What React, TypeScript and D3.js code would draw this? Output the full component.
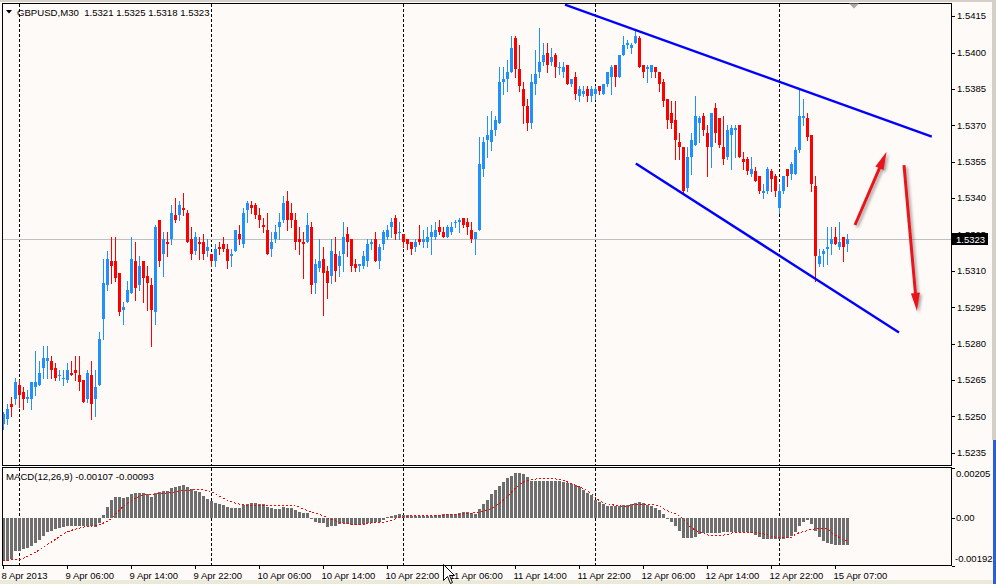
import * as React from "react";
import * as d3 from "d3";

// GBPUSD M30 bars, 8 Apr 22:00 .. 15 Apr 08:30 (one value per bar)
const opens = [
  1.5247, 1.5249, 1.5255, 1.5257, 1.5263, 1.526, 1.5257, 1.5257, 1.5262, 1.5263, 1.527, 1.5273, 1.5273, 1.527, 1.5267, 1.5266,
  1.5265, 1.5268, 1.5269, 1.5267, 1.5265, 1.5257, 1.5267, 1.5257, 1.5263, 1.529, 1.5304, 1.5314, 1.5314, 1.5309, 1.5294, 1.5297,
  1.5301, 1.5314, 1.5304, 1.5314, 1.5308, 1.5304, 1.5293, 1.5331, 1.5317, 1.5322, 1.5323, 1.5333, 1.5333, 1.5336, 1.5334, 1.5323,
  1.5318, 1.5322, 1.5322, 1.5318, 1.5317, 1.5314, 1.532, 1.5321, 1.5319, 1.5316, 1.5318, 1.5325, 1.5321, 1.5335, 1.5337, 1.5337,
  1.5333, 1.5329, 1.5327, 1.5319, 1.5323, 1.5328, 1.5331, 1.5339, 1.5334, 1.5331, 1.5323, 1.5322, 1.5322, 1.5328, 1.5305, 1.5311,
  1.5315, 1.531, 1.5308, 1.5317, 1.5312, 1.5317, 1.5325, 1.5323, 1.5313, 1.5312, 1.5312, 1.5314, 1.5321, 1.5323, 1.5314, 1.5321,
  1.5324, 1.5328, 1.5332, 1.5326, 1.5325, 1.5323, 1.5322, 1.532, 1.5323, 1.5322, 1.5322, 1.5324, 1.5324, 1.5328, 1.5326, 1.5324,
  1.5326, 1.533, 1.533, 1.5332, 1.533, 1.5327, 1.5323, 1.5327, 1.5352, 1.5364, 1.5363, 1.5368, 1.5371, 1.5388, 1.5389, 1.5392,
  1.5406, 1.5393, 1.5385, 1.5378, 1.5371, 1.5387, 1.5392, 1.5396, 1.54, 1.5396, 1.5399, 1.5394, 1.5392, 1.5395, 1.5387, 1.539,
  1.5382, 1.5383, 1.5385, 1.5382, 1.5383, 1.5386, 1.5383, 1.5387, 1.539, 1.5395, 1.539, 1.5399, 1.5403, 1.5402, 1.5404, 1.5406,
  1.5395, 1.5393, 1.5392, 1.5394, 1.5392, 1.5388, 1.5381, 1.5375, 1.5372, 1.5363, 1.5361, 1.5344, 1.5357, 1.5362, 1.5371, 1.5374,
  1.5367, 1.5361, 1.5377, 1.5373, 1.5361, 1.5357, 1.5366, 1.5368, 1.537, 1.5356, 1.5356, 1.535, 1.5351, 1.5349, 1.5342, 1.5343,
  1.5351, 1.5349, 1.5336, 1.5343, 1.5352, 1.535, 1.535, 1.536, 1.5373, 1.5373, 1.5366, 1.5345, 1.5313, 1.5317, 1.5319, 1.5321,
  1.5324, 1.532, 1.5324, 1.5321,
];
const highs = [
  1.5252, 1.5255, 1.5258, 1.5266, 1.5265, 1.5262, 1.5261, 1.5264, 1.5277, 1.5273, 1.5279, 1.5279, 1.5275, 1.5272, 1.5269, 1.5269,
  1.5272, 1.5273, 1.5275, 1.5275, 1.5265, 1.5269, 1.5273, 1.5269, 1.5285, 1.5315, 1.5318, 1.5324, 1.5324, 1.5309, 1.5297, 1.5306,
  1.5324, 1.5322, 1.5316, 1.5314, 1.5312, 1.5307, 1.5329, 1.5331, 1.5326, 1.5326, 1.5337, 1.534, 1.5339, 1.5342, 1.5335, 1.5328,
  1.5326, 1.5324, 1.5325, 1.5323, 1.5317, 1.5321, 1.5322, 1.5324, 1.5321, 1.5319, 1.5327, 1.5329, 1.5336, 1.5339, 1.5339, 1.5338,
  1.5336, 1.5332, 1.5334, 1.5326, 1.5329, 1.5334, 1.5341, 1.5343, 1.5338, 1.5334, 1.5328, 1.5326, 1.5334, 1.533, 1.5315, 1.5323,
  1.532, 1.5312, 1.5323, 1.5324, 1.5318, 1.533, 1.5328, 1.5323, 1.5315, 1.5313, 1.5318, 1.5323, 1.5323, 1.5326, 1.5321, 1.5327,
  1.5329, 1.5332, 1.5333, 1.533, 1.5325, 1.5323, 1.5322, 1.5323, 1.5329, 1.5327, 1.5328, 1.5329, 1.533, 1.5331, 1.5328, 1.5329,
  1.533, 1.5331, 1.5332, 1.5332, 1.5332, 1.533, 1.5326, 1.5365, 1.5365, 1.5374, 1.5376, 1.5374, 1.5394, 1.5394, 1.5397, 1.5407,
  1.5407, 1.5403, 1.5388, 1.5381, 1.5391, 1.5401, 1.541, 1.5404, 1.5404, 1.5402, 1.54, 1.5396, 1.5396, 1.5395, 1.5389, 1.5392,
  1.5386, 1.5386, 1.5386, 1.5386, 1.5386, 1.5386, 1.5387, 1.5392, 1.5395, 1.5395, 1.5399, 1.5407, 1.5405, 1.5404, 1.5409, 1.5407,
  1.5395, 1.5395, 1.5395, 1.5394, 1.5392, 1.5389, 1.5381, 1.538, 1.538, 1.5367, 1.5361, 1.5361, 1.5367, 1.5382, 1.5374, 1.5375,
  1.537, 1.5375, 1.5379, 1.5373, 1.5374, 1.537, 1.537, 1.537, 1.537, 1.5359, 1.5357, 1.5357, 1.5353, 1.5349, 1.5346, 1.5353,
  1.5352, 1.535, 1.5346, 1.5349, 1.5352, 1.5355, 1.5361, 1.5385, 1.5381, 1.5375, 1.5366, 1.5349, 1.5319, 1.5319, 1.5328, 1.5328,
  1.5328, 1.533, 1.5324, 1.5325,
];
const lows = [
  1.5245, 1.5247, 1.525, 1.5255, 1.5254, 1.5253, 1.5256, 1.5253, 1.5259, 1.5263, 1.5266, 1.5266, 1.5266, 1.5265, 1.5265, 1.5263,
  1.5264, 1.5267, 1.5265, 1.5261, 1.5256, 1.5256, 1.5249, 1.525, 1.5263, 1.5282, 1.5302, 1.5305, 1.5306, 1.5292, 1.5288, 1.5297,
  1.5301, 1.5298, 1.5302, 1.5297, 1.5294, 1.5279, 1.5288, 1.5312, 1.5308, 1.5316, 1.5321, 1.533, 1.5331, 1.5333, 1.5322, 1.5315,
  1.5317, 1.5315, 1.5315, 1.5316, 1.5312, 1.5312, 1.5317, 1.5318, 1.5311, 1.5312, 1.5318, 1.5321, 1.532, 1.533, 1.5334, 1.5332,
  1.5328, 1.5326, 1.5317, 1.5316, 1.5322, 1.5323, 1.533, 1.5327, 1.5328, 1.5319, 1.5317, 1.5307, 1.5322, 1.5301, 1.5301, 1.531,
  1.5292, 1.5299, 1.5305, 1.5306, 1.5308, 1.531, 1.5316, 1.531, 1.531, 1.531, 1.5311, 1.5312, 1.5319, 1.5314, 1.5311, 1.5319,
  1.5323, 1.5324, 1.5323, 1.5323, 1.532, 1.5319, 1.5317, 1.5318, 1.5321, 1.532, 1.532, 1.5317, 1.5323, 1.5325, 1.5324, 1.5324,
  1.5325, 1.5328, 1.5326, 1.5328, 1.5325, 1.5322, 1.5317, 1.5327, 1.5349, 1.5357, 1.536, 1.5366, 1.5371, 1.5383, 1.5384, 1.5392,
  1.539, 1.5384, 1.5371, 1.5368, 1.5369, 1.5383, 1.539, 1.5395, 1.5392, 1.5395, 1.539, 1.5391, 1.539, 1.5387, 1.5386, 1.5381,
  1.538, 1.5382, 1.538, 1.538, 1.5381, 1.5383, 1.5383, 1.5386, 1.5383, 1.5386, 1.539, 1.5399, 1.5402, 1.54, 1.5404, 1.5394,
  1.539, 1.5388, 1.539, 1.539, 1.5384, 1.5378, 1.5369, 1.5369, 1.5356, 1.5356, 1.5342, 1.5343, 1.535, 1.5362, 1.5363, 1.5366,
  1.5349, 1.5353, 1.5363, 1.5361, 1.5354, 1.5356, 1.5352, 1.5357, 1.5357, 1.5352, 1.535, 1.5349, 1.5347, 1.5342, 1.534, 1.5342,
  1.5343, 1.5341, 1.5334, 1.5342, 1.5345, 1.5348, 1.535, 1.5359, 1.537, 1.5364, 1.5343, 1.5306, 1.5312, 1.5312, 1.5313, 1.5317,
  1.5321, 1.5319, 1.5314, 1.5318,
];
const closes = [
  1.5251, 1.5253, 1.5254, 1.5264, 1.5259, 1.5257, 1.5258, 1.5264, 1.5264, 1.5268, 1.5274, 1.5274, 1.5269, 1.5266, 1.5267, 1.5266,
  1.5269, 1.5267, 1.5268, 1.5264, 1.5256, 1.5268, 1.5255, 1.5262, 1.5282, 1.5305, 1.5315, 1.5312, 1.5307, 1.5293, 1.5295, 1.5302,
  1.5315, 1.5303, 1.5312, 1.5307, 1.5305, 1.5294, 1.5328, 1.5314, 1.5323, 1.5321, 1.5334, 1.5331, 1.5337, 1.5335, 1.5322, 1.5317,
  1.5324, 1.5321, 1.5317, 1.532, 1.5314, 1.5319, 1.5319, 1.5319, 1.5314, 1.5317, 1.5327, 1.5323, 1.5334, 1.5338, 1.5336, 1.5333,
  1.5331, 1.5328, 1.5317, 1.5322, 1.5326, 1.533, 1.5338, 1.5331, 1.5331, 1.5322, 1.5322, 1.5321, 1.5329, 1.5304, 1.5313, 1.5314,
  1.5309, 1.5305, 1.5318, 1.531, 1.5316, 1.5324, 1.5322, 1.5312, 1.5311, 1.5313, 1.5316, 1.5321, 1.5322, 1.5314, 1.532, 1.5326,
  1.5327, 1.533, 1.5325, 1.5326, 1.5322, 1.5321, 1.5319, 1.5322, 1.5322, 1.5323, 1.5324, 1.5326, 1.5327, 1.5326, 1.5324, 1.5328,
  1.5328, 1.533, 1.5331, 1.5329, 1.5328, 1.5323, 1.5326, 1.5354, 1.5363, 1.5366, 1.5368, 1.5372, 1.5388, 1.5389, 1.5392, 1.5402,
  1.5393, 1.5386, 1.5378, 1.5371, 1.5388, 1.5391, 1.5396, 1.5399, 1.5395, 1.5398, 1.5394, 1.5394, 1.5394, 1.5387, 1.5389, 1.5383,
  1.5385, 1.5384, 1.5382, 1.5385, 1.5385, 1.5384, 1.5387, 1.5392, 1.5394, 1.539, 1.5399, 1.5403, 1.5404, 1.5403, 1.5407, 1.5394,
  1.5392, 1.5394, 1.5395, 1.5392, 1.5387, 1.538, 1.5372, 1.5371, 1.5364, 1.5361, 1.5343, 1.5357, 1.5364, 1.5374, 1.5373, 1.5368,
  1.5361, 1.5375, 1.5367, 1.5362, 1.5356, 1.5368, 1.5369, 1.5369, 1.5357, 1.5355, 1.5351, 1.5352, 1.5347, 1.5343, 1.5343, 1.5352,
  1.5348, 1.5343, 1.5343, 1.5349, 1.5349, 1.5354, 1.536, 1.5374, 1.5374, 1.5365, 1.5346, 1.5316, 1.5316, 1.5318, 1.532, 1.5323,
  1.5321, 1.5322, 1.532, 1.5323,
];

// MACD(12,26,9) main values, one per bar
const macdMain = [
  -0.00173, -0.00173, -0.00167, -0.00135, -0.00133, -0.00126, -0.00122, -0.00112, -0.00102, -0.00087, -0.00071, -0.00057,
  -0.00051, -0.00046, -0.00041, -0.00037, -0.00033, -0.00031, -0.0003, -0.0003, -0.00031, -0.00033, -0.00034, -0.00037,
  -0.0002, 0.00014, 0.00045, 0.00075, 0.00086, 0.00086, 0.00082, 0.00086, 0.00098, 0.001, 0.001, 0.001,
  0.00097, 0.00086, 0.001, 0.00104, 0.00109, 0.00109, 0.0012, 0.00124, 0.0013, 0.00134, 0.00124, 0.00116,
  0.00111, 0.00104, 0.00089, 0.00079, 0.0007, 0.00061, 0.00059, 0.00055, 0.00045, 0.00041, 0.00042, 0.00042,
  0.00052, 0.00059, 0.00061, 0.00063, 0.00059, 0.00056, 0.00045, 0.00041, 0.00037, 0.00037, 0.00045, 0.00042,
  0.00041, 0.00034, 0.00025, 0.00022, 0.00022, -0.00003, -0.00016, -0.0002, -0.0002, -0.00037, -0.00034, -0.00033,
  -0.00023, -0.0002, -0.00023, -0.00026, -0.00026, -0.00026, -0.00023, -0.0002, -0.00019, -0.00016, -0.00015, -0.00007,
  0.00004, 0.0001, 0.00014, 0.00015, 0.00014, 0.00011, 0.0001, 0.00008, 0.00008, 0.00007, 0.00007, 0.0001,
  0.00011, 0.00014, 0.00015, 0.00015, 0.00016, 0.00018, 0.00022, 0.00023, 0.00023, 0.0002, 0.00018, 0.00036,
  0.00059, 0.00075, 0.00096, 0.00113, 0.0013, 0.00148, 0.00161, 0.00172, 0.00182, 0.00182, 0.00179, 0.00168,
  0.00152, 0.00152, 0.00152, 0.00152, 0.00152, 0.00152, 0.00152, 0.0015, 0.00148, 0.00143, 0.00138, 0.00133,
  0.00124, 0.00113, 0.00102, 0.00093, 0.00075, 0.00066, 0.00056, 0.00049, 0.00048, 0.00048, 0.00051, 0.00052,
  0.00055, 0.00059, 0.00063, 0.00064, 0.00061, 0.00055, 0.00048, 0.00041, 0.00031, 0.00018, -0.00004, -0.00016,
  -0.00031, -0.00053, -0.00081, -0.00082, -0.00081, -0.00075, -0.00064, -0.00061, -0.00061, -0.00061, -0.00061, -0.00059,
  -0.00057, -0.00055, -0.00055, -0.00055, -0.00055, -0.00057, -0.00057, -0.00061, -0.00067, -0.00078, -0.00085, -0.00085,
  -0.00085, -0.00085, -0.00085, -0.00085, -0.00082, -0.00071, -0.00057, -0.0003, -0.00014, -0.00007, -0.00023, -0.00051,
  -0.00078, -0.00092, -0.001, -0.00105, -0.00108, -0.00108, -0.00108, -0.00107,
];

// signal line, read at these bars
const signalBars = [
  0, 4, 8, 12, 16, 20, 24, 27, 29, 33, 35, 38, 41, 45, 49, 52, 54, 58, 62, 66, 70, 73, 76, 79, 83, 85, 89, 92, 96, 99,
  103, 108, 112, 116, 119, 122, 124, 126, 128, 131, 136, 140, 143, 147, 149, 151, 153, 156, 158, 162, 164, 166, 168, 170,
  172, 175, 177, 181, 183, 187, 190, 194, 197, 198, 201, 203, 206, 207, 209, 211,
];
const signalValues = [
  -0.00171, -0.00167, -0.00139, -0.00098, -0.00057, -0.00037, -0.00026, -0.00003, 0.00031, 0.00079, 0.00093, 0.00097,
  0.00102, 0.00111, 0.00116, 0.00107, 0.00089, 0.00061, 0.00052, 0.00052, 0.00052, 0.00049, 0.00031, 0.00015, -0.0001,
  -0.0002, -0.00026, -0.0002, -0.00014, 0.00001, 0.00011, 0.00011, 0.00014, 0.00018, 0.00025, 0.00038, 0.00059, 0.00086,
  0.0012, 0.00152, 0.00161, 0.00152, 0.00134, 0.001, 0.00072, 0.00059, 0.00052, 0.00048, 0.00055, 0.00055, 0.00048,
  0.00031, 0.00018, -0.00003, -0.00037, -0.00061, -0.00071, -0.00067, -0.00057, -0.00057, -0.00064, -0.00078, -0.00078,
  -0.00067, -0.00051, -0.00044, -0.00044, -0.00057, -0.00078, -0.00093,
];

const timeLabels = [
  "8 Apr 2013", "9 Apr 06:00", "9 Apr 14:00", "9 Apr 22:00", "10 Apr 06:00", "10 Apr 14:00", "10 Apr 22:00",
  "11 Apr 06:00", "11 Apr 14:00", "11 Apr 22:00", "12 Apr 06:00", "12 Apr 14:00", "12 Apr 22:00", "15 Apr 07:00",
];
const timeLabelBars = [0, 16, 32, 48, 64, 80, 96, 112, 128, 144, 160, 176, 192, 208];
const daySeparatorBars = [4, 52, 100, 148, 194];

const priceTicks = [
  1.5415, 1.54, 1.5385, 1.537, 1.5355, 1.534, 1.5325, 1.531, 1.5295, 1.528, 1.5265, 1.525, 1.5235,
];
const macdTicks = [0.00205, 0, -0.00192];
const macdTickLabels = ["0.00205", "0.00", "-0.00192"];

// drawn objects: [bar, price]
const upperChannel = [[140.5, 1.54197], [232.2, 1.53653]];
const lowerChannel = [[158.2, 1.53543], [224, 1.52846]];
const arrowUp = [[213, 1.53289], [220.9, 1.53591]];
const arrowDown = [[225.25, 1.53536], [228.5, 1.52935]];

const bidPrice = 1.5323;
const title = "GBPUSD,M30  1.5321 1.5325 1.5318 1.5323";
const macdTitle = "MACD(12,26,9) -0.00107 -0.00093";

const BULL = "#1e90ff";
const BEAR = "#ff0000";
const BG = "#fefaf8";
const FONT = "'Liberation Sans', Arial, sans-serif";

function Arrow({ pts, x, y }) {
  const x1 = x(pts[0][0]);
  const y1 = y(pts[0][1]);
  const x2 = x(pts[1][0]);
  const y2 = y(pts[1][1]);
  const len = Math.hypot(x2 - x1, y2 - y1);
  const ux = (x2 - x1) / len;
  const uy = (y2 - y1) / len;
  const hl = 18;
  const hw = 4.5;
  const bx = x2 - ux * hl;
  const by = y2 - uy * hl;
  return (
    <g filter="url(#shadow)">
      <line x1={x1} y1={y1} x2={bx + ux * 2} y2={by + uy * 2} stroke="#e8161a" strokeWidth={3} />
      <path
        d={`M${x2},${y2} L${bx - uy * hw},${by + ux * hw} L${bx + uy * hw},${by - ux * hw} Z`}
        fill="#e8161a"
      />
    </g>
  );
}

export default function App() {
  const x = d3.scaleLinear().domain([0, 237]).range([3, 951]);
  const y = d3.scaleLinear().domain([1.523, 1.54204]).range([465, 3]);
  const ym = d3.scaleLinear().domain([-0.00192, 0.00205]).range([565.5, 467.5]);

  const bars = d3.range(opens.length);
  const signalLine = d3
    .line<number>()
    .x((_, k) => x(signalBars[k]))
    .y((d) => ym(d))
    .curve(d3.curveMonotoneX);

  const zeroY = Math.round(ym(0));
  const bidY = Math.round(y(bidPrice));

  return (
    <svg
      width={996}
      height={584}
      style={{ position: "absolute", left: 0, top: 0, display: "block" }}
      fontFamily={FONT}
    >
      <defs>
        <clipPath id="main">
          <rect x={3} y={4} width={948} height={461} />
        </clipPath>
        <clipPath id="sub">
          <rect x={3} y={468} width={948} height={97} />
        </clipPath>
        <clipPath id="abovebid">
          <rect x={952} y={0} width={44} height={bidY - 6} />
        </clipPath>
        <filter id="shadow" x="-50%" y="-50%" width="200%" height="200%">
          <feDropShadow dx={2} dy={2} stdDeviation={1.4} floodColor="#000" floodOpacity={0.35} />
        </filter>
      </defs>

      <rect width={996} height={584} fill={BG} />
      <rect x={0} y={0} width={996} height={2} fill="#d4d0c8" />
      <rect x={0} y={580} width={996} height={4} fill="#ece9d8" />
      <rect x={992} y={0} width={4} height={440} fill="#d4d0c8" />
      <rect x={993} y={440} width={3} height={144} fill="#2a5fd6" />

      {/* separators between days */}
      {daySeparatorBars.map((b) => (
        <g key={b} stroke="#000" strokeDasharray="3,2" shapeRendering="crispEdges">
          <line x1={x(b) + 0.5} x2={x(b) + 0.5} y1={4} y2={465} />
          <line x1={x(b) + 0.5} x2={x(b) + 0.5} y1={468} y2={565} />
        </g>
      ))}

      {/* bid line */}
      <line x1={3} x2={951} y1={bidY + 0.5} y2={bidY + 0.5} stroke="#c0c0c0" shapeRendering="crispEdges" />

      {/* candles */}
      <g clipPath="url(#main)" shapeRendering="crispEdges">
        {bars.map((i) => {
          const o = opens[i];
          const c = closes[i];
          const col = c >= o ? BULL : BEAR;
          const cx = x(i);
          const top = Math.round(y(Math.max(o, c)));
          const bot = Math.round(y(Math.min(o, c)));
          const hy = Math.round(y(highs[i]));
          const ly = Math.round(y(lows[i]));
          return (
            <g key={i}>
              <rect x={cx} y={hy} width={1} height={Math.max(1, ly - hy + 1)} fill={col} />
              <rect x={cx - 1} y={top} width={3} height={Math.max(1, bot - top)} fill={col} />
            </g>
          );
        })}
      </g>

      {/* channel lines */}
      <g clipPath="url(#main)" stroke="#0000ff" strokeWidth={2.4}>
        {[upperChannel, lowerChannel].map((l, k) => (
          <line key={k} x1={x(l[0][0])} y1={y(l[0][1])} x2={x(l[1][0])} y2={y(l[1][1])} />
        ))}
      </g>

      <Arrow pts={arrowUp} x={x} y={y} />
      <Arrow pts={arrowDown} x={x} y={y} />

      {/* MACD histogram */}
      <g clipPath="url(#sub)" shapeRendering="crispEdges">
        {bars.map((i) => {
          const v = Math.round(ym(macdMain[i]));
          return (
            <rect
              key={i}
              x={x(i) - 1}
              y={Math.min(v, zeroY)}
              width={3}
              height={Math.max(1, Math.abs(v - zeroY))}
              fill="#6e6e6e"
            />
          );
        })}
        <path d={signalLine(signalValues) || ""} fill="none" stroke="#ff0000" strokeWidth={1} strokeDasharray="2,2" />
      </g>

      {/* frames */}
      <g fill="none" stroke="#000" shapeRendering="crispEdges">
        <rect x={2.5} y={3.5} width={949} height={461.5} />
        <rect x={2.5} y={467.5} width={949} height={98} />
      </g>

      {/* price axis */}
      <g fontSize={9.5} fill="#000">
        {priceTicks.map((p) => {
          const hidden = Math.abs(y(p) - bidY) < 8;
          return (
            <g key={p}>
              <line x1={952} x2={955} y1={Math.round(y(p)) + 0.5} y2={Math.round(y(p)) + 0.5} stroke="#000" />
              <text x={957} y={y(p)} dy="0.35em" clipPath={hidden ? "url(#abovebid)" : undefined}>
                {p.toFixed(4)}
              </text>
            </g>
          );
        })}
      </g>
      <rect x={952} y={bidY - 6} width={36} height={12} fill="#000" />
      <text x={956} y={y(bidPrice)} dy="0.36em" fontSize={9.5} fill="#fff">
        {bidPrice.toFixed(4)}
      </text>

      {/* MACD axis */}
      <g fontSize={9.5} fill="#000">
        {macdTicks.map((v, k) => {
          const ty = ym(v);
          const ly = k === 0 ? ty + 6.5 : k === 2 ? ty - 7 : ty;
          return (
            <g key={v}>
              <line x1={952} x2={955} y1={Math.round(ty) + 0.5} y2={Math.round(ty) + 0.5} stroke="#000" />
              <text x={k === 2 ? 955 : 956} y={ly} dy="0.35em">
                {macdTickLabels[k]}
              </text>
            </g>
          );
        })}
      </g>

      {/* time axis */}
      <g fontSize={9.5} fill="#000">
        {timeLabelBars.map((b, k) => (
          <g key={b}>
            <line x1={x(b) + 0.5} x2={x(b) + 0.5} y1={566} y2={569} stroke="#000" />
            <text x={x(b) - 1.5} y={579}>
              {timeLabels[k]}
            </text>
          </g>
        ))}
      </g>

      {/* window titles */}
      <path d="M6,10 L12,10 L9,13.5 Z" fill="#000" />
      <text x={17} y={16} fontSize={9.6} fill="#000" style={{ whiteSpace: "pre" }}>
        {title}
      </text>
      <text x={6} y={479.5} fontSize={9.6} fill="#000">
        {macdTitle}
      </text>

      {/* chart shift marker */}
      <path d="M849,3.5 L859,3.5 L854,8.5 Z" fill="#a8a8a8" />

      {/* mouse pointer */}
      <path
        d="M443.5,564.5 L443.5,580.5 L447.5,576.5 L450.5,583.5 L452.5,582.5 L449.5,575.5 L454.5,575.5 Z"
        fill="#fff"
        stroke="#000"
        strokeWidth={1}
      />
    </svg>
  );
}
